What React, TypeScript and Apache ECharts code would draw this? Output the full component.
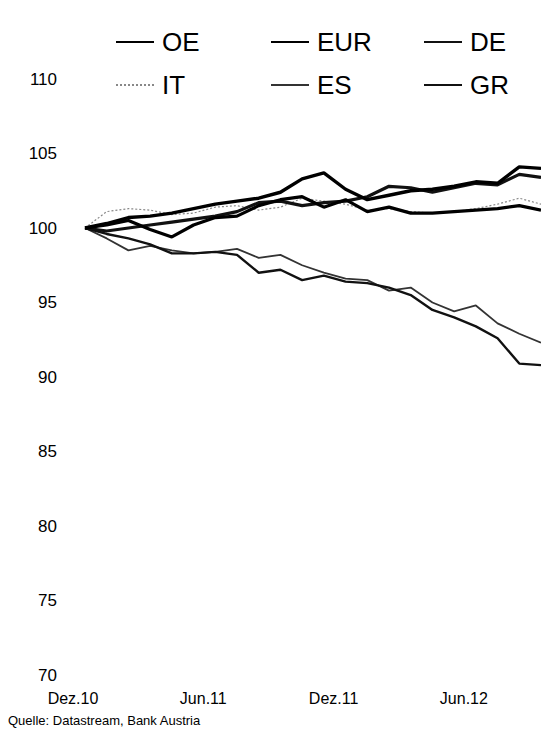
import React, { useEffect, useRef } from "react";
import * as echarts from "echarts";

const categories = [
  "Dez.10", "Jan.11", "Feb.11", "Mär.11", "Apr.11", "Mai.11", "Jun.11", "Jul.11",
  "Aug.11", "Sep.11", "Okt.11", "Nov.11", "Dez.11", "Jan.12", "Feb.12", "Mär.12",
  "Apr.12", "Mai.12", "Jun.12", "Jul.12", "Aug.12", "Sep.12",
];

const oe = [100, 100.3, 100.7, 100.8, 101.0, 101.3, 101.6, 101.8, 102.0, 102.4, 103.3, 103.7, 102.6, 101.9, 102.2, 102.5, 102.6, 102.8, 103.1, 103.0, 104.1, 104.0];
const eur = [100, 100.2, 100.5, 99.9, 99.4, 100.2, 100.7, 100.8, 101.5, 101.9, 102.1, 101.4, 101.9, 101.1, 101.4, 101.0, 101.0, 101.1, 101.2, 101.3, 101.5, 101.2];
const de = [100, 99.8, 100.0, 100.2, 100.4, 100.6, 100.8, 101.1, 101.7, 101.8, 101.5, 101.7, 101.8, 102.1, 102.8, 102.7, 102.4, 102.7, 103.0, 102.9, 103.6, 103.4];
const it = [100, 101.1, 101.3, 101.2, 100.9, 101.0, 101.4, 101.5, 101.2, 101.4, 102.0, 101.8, 101.6, 101.2, 101.3, 101.1, 101.0, 101.1, 101.3, 101.6, 102.0, 101.6];
const es = [100, 99.3, 98.5, 98.8, 98.5, 98.3, 98.4, 98.6, 98.0, 98.2, 97.5, 97.0, 96.6, 96.5, 95.8, 96.0, 95.0, 94.4, 94.8, 93.6, 92.9, 92.3];
const gr = [100, 99.6, 99.3, 98.9, 98.3, 98.3, 98.4, 98.2, 97.0, 97.2, 96.5, 96.8, 96.4, 96.3, 96.0, 95.5, 94.5, 94.0, 93.4, 92.6, 90.9, 90.8];

const source = "Quelle: Datastream, Bank Austria";
const FONT = "Liberation Sans, Arial, sans-serif";

export default function App() {
  const ref = useRef<HTMLDivElement>(null);
  useEffect(() => {
    if (!ref.current) return;
    const chart = echarts.init(ref.current, null, { renderer: "svg" });
    const legendBase = {
      orient: "vertical" as const,
      top: 24,
      itemWidth: 38,
      itemHeight: 14,
      itemGap: 17,
      selectedMode: false,
      itemStyle: { opacity: 0 },
      textStyle: { fontSize: 26, lineHeight: 26, color: "#000", fontFamily: FONT, padding: [0, 0, 0, 3] },
    };
    const mk = (name: string, data: number[], color: string, width: number, type: any = "solid") => ({
      name,
      type: "line",
      data,
      symbol: "none",
      smooth: false,
      lineStyle: { color, width, type },
      itemStyle: { color },
    });
    chart.setOption({
      animation: false,
      backgroundColor: "#fff",
      textStyle: { fontFamily: FONT },
      legend: [
        { ...legendBase, left: 110, data: ["OE", "IT"] },
        { ...legendBase, left: 265, data: ["EUR", "ES"] },
        { ...legendBase, left: 418, data: ["DE", "GR"] },
      ],
      grid: { left: 85, top: 79, width: 472.5, height: 596, containLabel: false },
      xAxis: {
        type: "category",
        data: categories,
        boundaryGap: false,
        axisLine: { show: false },
        axisTick: { show: false },
        splitLine: { show: false },
        axisLabel: {
          interval: 5,
          fontSize: 16,
          color: "#000",
          fontFamily: FONT,
          margin: 15,
          padding: [0, 24, 0, 0],
        },
      },
      yAxis: {
        type: "value",
        min: 70,
        max: 110,
        interval: 5,
        axisLine: { show: false },
        axisTick: { show: false },
        splitLine: { show: false },
        axisLabel: { fontSize: 17, color: "#000", fontFamily: FONT, margin: 28 },
      },
      graphic: [
        {
          type: "text",
          left: 8,
          top: 714,
          style: { text: source, fontSize: 13, fill: "#000", fontFamily: FONT },
        },
      ],
      series: [
        mk("IT", it, "#888", 1.2, [2, 2]),
        mk("ES", es, "#333", 1.8),
        mk("GR", gr, "#111", 2.4),
        mk("DE", de, "#111", 3.2),
        mk("EUR", eur, "#000", 3.2),
        mk("OE", oe, "#000", 3.4),
      ],
    });
    return () => chart.dispose();
  }, []);
  return (
    <div
      ref={ref}
      style={{ position: "absolute", left: 0, top: 0, width: 541, height: 733 }}
    />
  );
}
